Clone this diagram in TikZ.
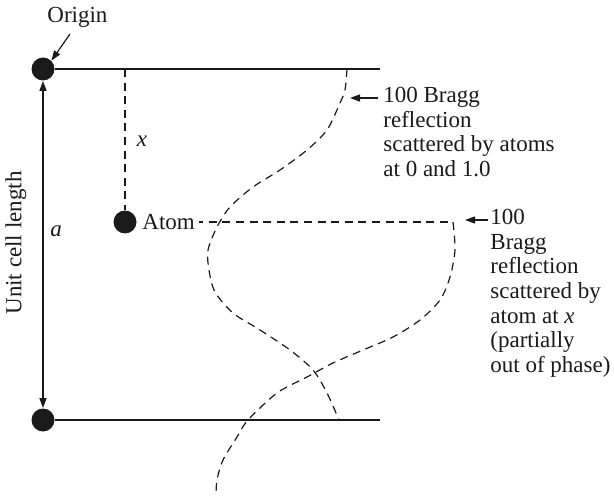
\documentclass[tikz,border=0pt]{standalone}
\usepackage{fontspec}
\setmainfont{Liberation Serif}
\usepackage{tikz}
\usetikzlibrary{positioning,arrows.meta,calc}
\definecolor{InkDark}{HTML}{1A1A1A}
\tikzset{
  atomdot/.style={circle, fill=InkDark, inner sep=0pt, minimum size=11.5pt},
  cellline/.style={draw=InkDark, line width=0.7pt},
  wave/.style={draw=InkDark, line width=0.6pt, dash pattern=on 4pt off 2.8pt},
  label/.style={inner sep=0pt, text=InkDark, font=\fontsize{11.5}{12.3}\selectfont},
  pointer/.style={draw=InkDark, line width=0.6pt, -{Triangle[length=5pt,width=3.5pt]}}
}

\begin{document}
\begin{tikzpicture}[x=0.5pt, y=-0.5pt]
      \useasboundingbox (0,0) rectangle (614,496);
      \node[atomdot] (origin) at (43,69) {};
      \node[atomdot] (corner) at (43,420) {};
      \node[atomdot] (atom) at (125,222) {};
      \coordinate (topend) at (380,69);
      \coordinate (botend) at (380,420);
      \coordinate (xtop) at (125,69);
      \coordinate (phasetop) at (453,222);
      \draw[cellline] (origin) -- (topend);
      \draw[cellline] (corner) -- (botend);
      \draw[cellline, {Triangle[length=5pt,width=3.5pt]}-{Triangle[length=5pt,width=3.5pt]}]
        (origin) -- (corner);
      \draw[wave] (xtop) -- (atom);
      \node[label, anchor=west] (origintext) at (47,17) {Origin};
      \coordinate (origintail) at (70,34);
      \draw[pointer] (origintail) -- (origin.north east);
      \node[label] (alen) at (56,231) {\textit{a}};
      \node[label, rotate=90] (cellen) at (16,243) {Unit cell length};
      \node[label] (xlen) at (142,141) {\textit{x}};
      \node[label, anchor=west] (atomtext) at (142,222) {Atom};
      \draw[wave, dash phase=2pt] ($(atomtext.east)+(4,0)$) -- (phasetop);
      \draw[wave] plot[smooth] coordinates {(347,69) (345,90) (340,103) (327,130)
        (307,150) (280,170) (253,187) (230,207) (217,227) (208,250) (209,270)
        (215,292) (233,313) (260,330) (290,350) (313,370) (327,393) (339,420)};
      \draw[wave] plot[smooth] coordinates {(phasetop) (455,250) (450,277)
        (440,300) (420,320) (393,337) (363,350) (333,363) (307,377) (277,393)
        (248,420) (237,437) (223,460) (217,480) (216,496)};
      \node[label, anchor=north west, align=left] (braggall) at (383,87) {%
        100 Bragg\\
        reflection\\
        scattered by atoms\\
        at 0 and 1.0};
      \node[label, anchor=north west, align=left] (braggx) at (490,209) {%
        100\\
        Bragg\\
        reflection\\
        scattered by\\
        atom at \textit{x}\\
        (partially\\
        out of phase)};
      \coordinate (alltail) at (378,98);
      \coordinate (alltip) at (350,98);
      \coordinate (xtail) at (488,220);
      \coordinate (xtip) at (465,220);
      \draw[pointer] (alltail) -- (alltip);
      \draw[pointer] (xtail) -- (xtip);
    \end{tikzpicture}
\end{document}
